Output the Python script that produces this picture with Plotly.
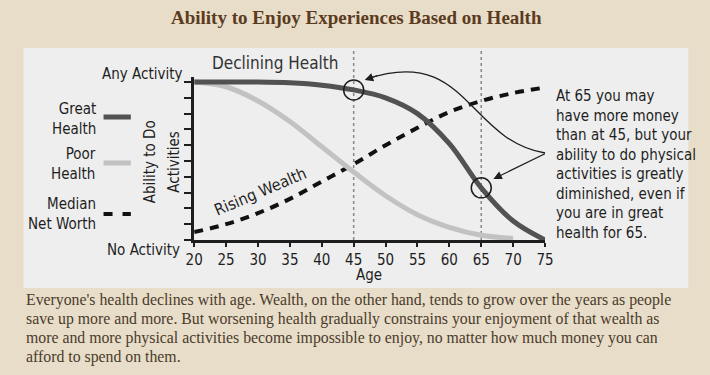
import plotly.graph_objects as go

W, H = 710, 375

# ---------------- data ----------------
ages = [20, 25, 30, 35, 40, 45, 50, 55, 60, 65, 70, 75]
great_health = [1.0, 1.0, 1.0, 0.995, 0.98, 0.95, 0.9, 0.8, 0.61, 0.33, 0.12, 0.0]
poor_ages = [20, 25, 30, 35, 40, 45, 50, 55, 60, 65, 70]
poor_health = [1.0, 0.97, 0.88, 0.75, 0.59, 0.43, 0.28, 0.16, 0.08, 0.03, 0.01]
net_worth = [0.05, 0.10, 0.17, 0.26, 0.37, 0.48, 0.60, 0.71, 0.81, 0.88, 0.93, 0.965]
x_ticks = [20, 25, 30, 35, 40, 45, 50, 55, 60, 65, 70, 75]
y_ticks = [i / 10 for i in range(11)]
marked_ages = [45, 65]

title = "Ability to Enjoy Experiences Based on Health"
caption_lines = [
    "Everyone's health declines with age. Wealth, on the other hand, tends to grow over the years as people",
    "save up more and more. But worsening health gradually constrains your enjoyment of that wealth as",
    "more and more physical activities become impossible to enjoy, no matter how much money you can",
    "afford to spend on them.",
]
note = ("At 65 you may<br>have more money<br>than at 45, but your<br>ability to do physical<br>"
        "activities is greatly<br>diminished, even if<br>you are in great<br>health for 65.")

# ---------------- styling ----------------
HAND = "Liberation Sans Narrow, DejaVu Sans Condensed, sans-serif"
SERIF = "Liberation Serif, DejaVu Serif, serif"
BG = "#e8ddc8"
PANEL = "#eeeeee"
DARK = "#525252"
LIGHT = "#c2c2c2"
INK = "#1e1e1e"

def px(x):
    return x / W

def py(y):
    return 1 - y / H

# plot area pixel geometry
X0, X1 = 190, 550
Y0, Y1 = 240, 82  # y=0, y=1
ymax = 1.03
ytop_px = Y0 - (Y0 - Y1) * ymax

fig = go.Figure()

fig.add_trace(go.Scatter(x=ages, y=net_worth, mode="lines",
                         line=dict(color="#111111", width=4, dash="9px,7px", shape="spline", smoothing=1.0),
                         hoverinfo="skip", showlegend=False))
fig.add_trace(go.Scatter(x=poor_ages, y=poor_health, mode="lines",
                         line=dict(color=LIGHT, width=5, shape="spline", smoothing=1.0),
                         hoverinfo="skip", showlegend=False))
fig.add_trace(go.Scatter(x=ages, y=great_health, mode="lines",
                         line=dict(color=DARK, width=5, shape="spline", smoothing=1.0),
                         hoverinfo="skip", showlegend=False))

shapes = []
# panel
shapes.append(dict(type="rect", xref="paper", yref="paper", x0=px(15), x1=px(697), y0=py(288), y1=py(48),
                   fillcolor=PANEL, line=dict(width=0), layer="below"))
# vertical dotted reference lines
for a in marked_ages:
    shapes.append(dict(type="line", xref="x", yref="paper", x0=a, x1=a, y0=py(Y0), y1=py(48),
                       line=dict(color="#888888", width=1.5, dash="dot"), layer="below"))
# circles on the great-health curve
for a in marked_ages:
    yv = great_health[ages.index(a)]
    shapes.append(dict(type="circle", xref="x", yref="y", xsizemode="pixel", ysizemode="pixel",
                       xanchor=a, yanchor=yv, x0=-10, x1=10, y0=-10, y1=10,
                       line=dict(color=INK, width=1.5)))
# curved arrow path (paper coords, not clipped)
path = "M {} {} C {} {} {} {} {} {}".format(px(550), py(153), px(470), py(140), px(470), py(45), px(367), py(79))
shapes.append(dict(type="path", xref="paper", yref="paper", path=path, line=dict(color=INK, width=1.3)))
# legend swatches
shapes.append(dict(type="line", xref="paper", yref="paper", x0=px(97), x1=px(125), y0=py(117), y1=py(117),
                   line=dict(color=DARK, width=5)))
shapes.append(dict(type="line", xref="paper", yref="paper", x0=px(97), x1=px(125), y0=py(163), y1=py(163),
                   line=dict(color=LIGHT, width=5)))
shapes.append(dict(type="line", xref="paper", yref="paper", x0=px(97), x1=px(125), y0=py(214), y1=py(214),
                   line=dict(color="#111111", width=4, dash="9px,10px")))

ann = []
def text(x, y, t, size=15, font=HAND, color=INK, xanchor="center", yanchor="middle", align="center", angle=0):
    ann.append(dict(x=px(x), y=py(y), xref="paper", yref="paper", text=t, showarrow=False,
                    font=dict(family=font, size=size, color=color), xanchor=xanchor, yanchor=yanchor,
                    align=align, textangle=angle))

text(357, 17, "<b>" + title + "</b>", size=19, font=SERIF, color="#5b3b1f")
for i, line in enumerate(caption_lines):
    text(15, 300 + 19 * i, line, size=15.8, font=SERIF, color="#4a3b2c", xanchor="left", align="left")
text(559, 164, note, size=15, xanchor="left", align="left")
text(180, 74, "Any Activity", size=15, xanchor="right")
text(177, 250, "No Activity", size=15, xanchor="right")
text(91, 119, "Great<br>Health", size=15, xanchor="right", align="right")
text(91, 164, "Poor<br>Health", size=15, xanchor="right", align="right")
text(91, 214, "Median<br>Net Worth", size=15, xanchor="right", align="right")
text(145, 162, "Ability to Do", size=15, angle=-90)
text(169, 162, "Activities", size=15, angle=-90)
text(273, 63, "Declining Health", size=17, color="#333333")
text(258, 191, "Rising Wealth", size=16, angle=-23)
text(369, 275, "Age", size=15)

# arrow heads / straight arrow
ann.append(dict(x=px(365), y=py(80), xref="paper", yref="paper", ax=14, ay=-5, text="", showarrow=True,
                arrowhead=2, arrowsize=1.3, arrowwidth=1.3, arrowcolor=INK))
ann.append(dict(x=px(497), y=py(179), xref="paper", yref="paper", ax=53, ay=-26, text="", showarrow=True,
                arrowhead=2, arrowsize=1.3, arrowwidth=1.3, arrowcolor=INK))

fig.update_layout(
    width=W, height=H, margin=dict(l=0, r=0, t=0, b=0),
    paper_bgcolor=BG, plot_bgcolor="rgba(0,0,0,0)",
    shapes=shapes, annotations=ann, showlegend=False,
    xaxis=dict(domain=[px(X0), px(X1)], range=[20, 75], tickvals=x_ticks, ticks="outside",
               ticklen=4, tickwidth=2, tickcolor=INK, showline=True, linewidth=2.5, linecolor=INK,
               showgrid=False, zeroline=False, tickfont=dict(family=HAND, size=15, color=INK)),
    yaxis=dict(domain=[py(Y0), py(ytop_px)], range=[0, ymax], tickvals=y_ticks, ticks="outside",
               ticklen=7, tickwidth=2, tickcolor=INK, showline=True, linewidth=2.5, linecolor=INK,
               showgrid=False, zeroline=False, showticklabels=False),
)

fig.write_html("out.html", config={"displayModeBar": False},
               post_script="document.body.style.margin='0';document.body.style.overflow='hidden';")
